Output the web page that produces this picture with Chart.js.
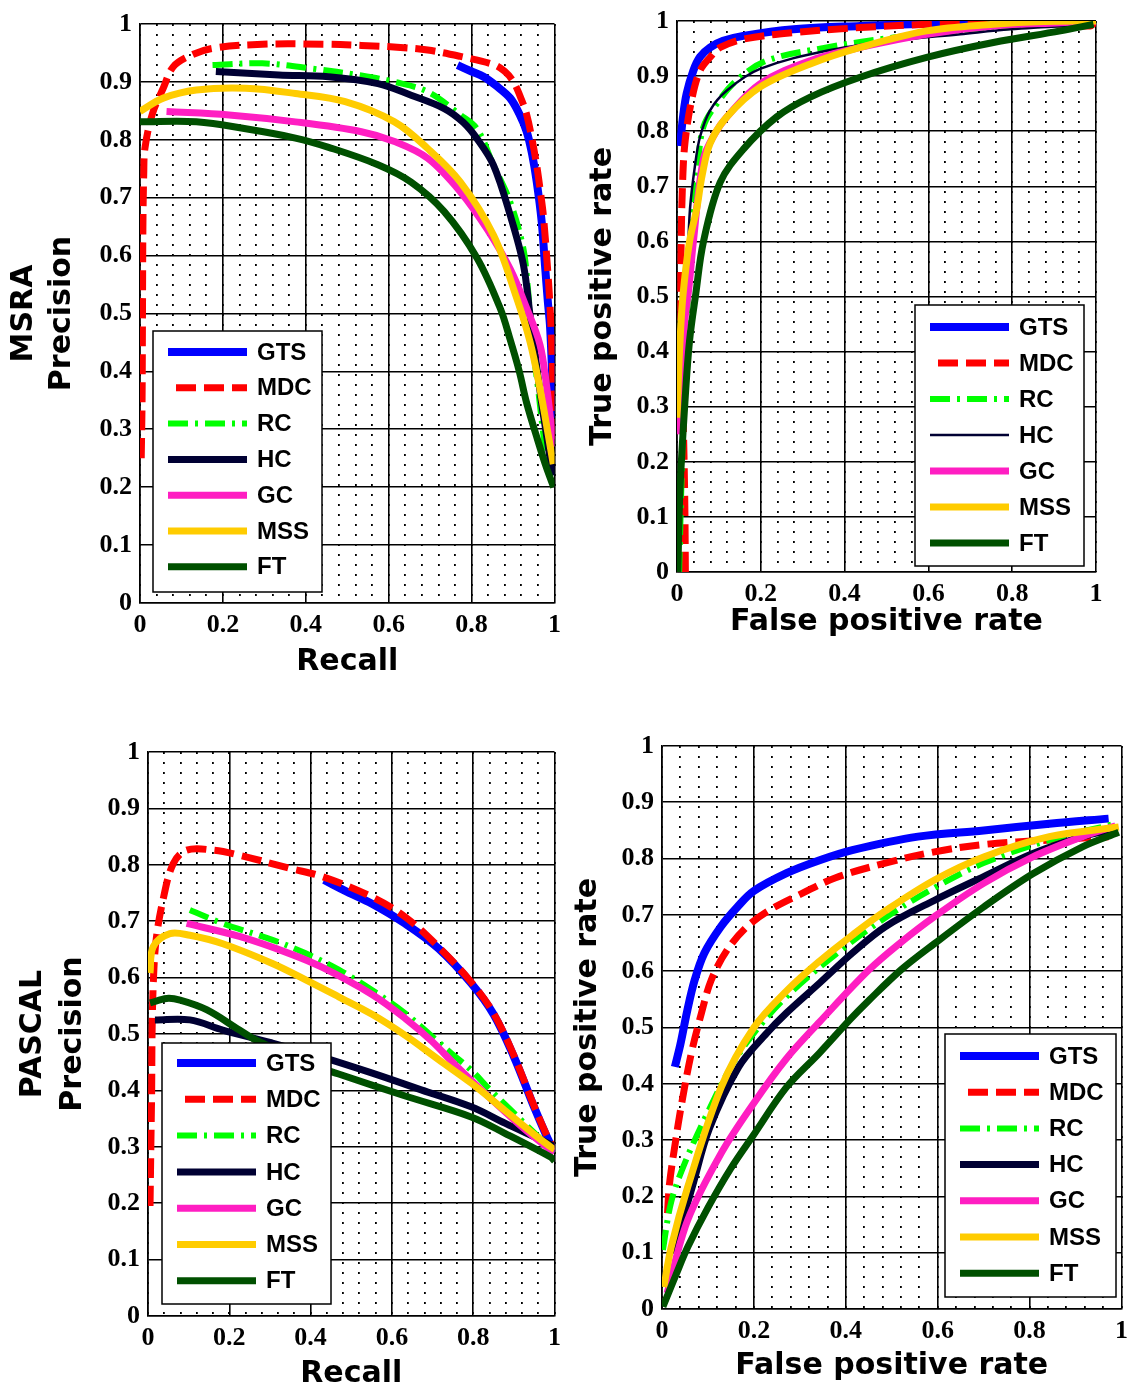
<!DOCTYPE html>
<html>
<head>
<meta charset="utf-8">
<script src="https://cdn.jsdelivr.net/npm/chart.js@4.4.0/dist/chart.umd.min.js"></script>
<style>
  html, body { margin: 0; padding: 0; background: #fff; }
  body { width: 1137px; height: 1392px; position: relative; overflow: hidden; }
  canvas { position: absolute; }
</style>
</head>
<body>
<canvas id="msraPr" width="570" height="690" style="left:0;top:0;width:570px;height:690px"></canvas>
<canvas id="msraRoc" width="567" height="690" style="left:570px;top:0;width:567px;height:690px"></canvas>
<canvas id="pascalPr" width="570" height="702" style="left:0;top:690px;width:570px;height:702px"></canvas>
<canvas id="pascalRoc" width="567" height="702" style="left:570px;top:690px;width:567px;height:702px"></canvas>
<script>
/* ---- data ---- */
var methods = ['GTS', 'MDC', 'RC', 'HC', 'GC', 'MSS', 'FT'];

var xTickValues = [0, 0.2, 0.4, 0.6, 0.8, 1];
var xTickLabels = ['0', '0.2', '0.4', '0.6', '0.8', '1'];
var yTickValues = [0, 0.1, 0.2, 0.3, 0.4, 0.5, 0.6, 0.7, 0.8, 0.9, 1];
var yTickLabels = ['0', '0.1', '0.2', '0.3', '0.4', '0.5', '0.6', '0.7', '0.8', '0.9', '1'];

// MSRA precision / recall
var msraPrGTS = [[0.766,0.929],[0.80,0.918],[0.829,0.909],[0.86,0.893],[0.893,0.872],[0.915,0.845],[0.933,0.814],[0.946,0.775],[0.957,0.728],[0.969,0.659],[0.977,0.584],[0.984,0.52],[0.989,0.48],[0.993,0.42],[0.996,0.36],[0.998,0.32]];
var msraPrMDC = [[0.003,0.25],[0.005,0.35],[0.006,0.5],[0.007,0.65],[0.009,0.74],[0.012,0.786],[0.03,0.845],[0.056,0.889],[0.08,0.926],[0.12,0.945],[0.175,0.958],[0.295,0.965],[0.45,0.965],[0.534,0.963],[0.62,0.96],[0.694,0.955],[0.773,0.944],[0.853,0.930],[0.88,0.918],[0.901,0.900],[0.92,0.87],[0.933,0.843],[0.946,0.80],[0.957,0.756],[0.966,0.71],[0.973,0.670],[0.982,0.59],[0.989,0.515],[0.994,0.43],[0.997,0.35],[0.999,0.28]];
var msraPrRC  = [[0.175,0.929],[0.295,0.932],[0.415,0.923],[0.534,0.911],[0.614,0.900],[0.694,0.883],[0.773,0.843],[0.813,0.819],[0.853,0.756],[0.893,0.693],[0.925,0.612],[0.935,0.55],[0.947,0.45],[0.962,0.36],[0.975,0.28],[0.985,0.23]];
var msraPrHC  = [[0.183,0.918],[0.335,0.912],[0.455,0.909],[0.574,0.897],[0.654,0.877],[0.734,0.854],[0.78,0.83],[0.813,0.802],[0.853,0.756],[0.893,0.670],[0.925,0.584],[0.941,0.497],[0.955,0.42],[0.97,0.34],[0.985,0.27],[0.995,0.22]];
var msraPrGC  = [[0.064,0.849],[0.215,0.843],[0.375,0.831],[0.534,0.814],[0.614,0.797],[0.694,0.768],[0.773,0.710],[0.837,0.646],[0.893,0.577],[0.933,0.509],[0.965,0.446],[0.98,0.38],[0.99,0.32],[0.998,0.27]];
var msraPrMSS = [[0.0,0.849],[0.056,0.872],[0.136,0.886],[0.255,0.889],[0.375,0.880],[0.495,0.866],[0.614,0.831],[0.694,0.785],[0.773,0.727],[0.853,0.635],[0.909,0.526],[0.941,0.451],[0.965,0.37],[0.985,0.29],[0.997,0.24]];
var msraPrFT  = [[0.0,0.831],[0.136,0.831],[0.255,0.819],[0.375,0.803],[0.455,0.787],[0.574,0.757],[0.654,0.727],[0.734,0.676],[0.813,0.596],[0.869,0.509],[0.893,0.455],[0.915,0.40],[0.933,0.345],[0.96,0.28],[0.98,0.235],[0.998,0.2]];

// MSRA ROC
var msraRocGTS = [[0.007,0.773],[0.015,0.83],[0.023,0.868],[0.039,0.910],[0.055,0.935],[0.079,0.952],[0.11,0.964],[0.158,0.973],[0.278,0.985],[0.437,0.991],[0.596,0.995],[0.7,0.998],[0.8,1.0],[1.0,1.0]];
var msraRocMDC = [[0.02,0.0],[0.019,0.1],[0.017,0.2],[0.014,0.3],[0.011,0.4],[0.009,0.5],[0.01,0.6],[0.013,0.7],[0.019,0.779],[0.035,0.857],[0.055,0.910],[0.08,0.935],[0.103,0.952],[0.158,0.967],[0.278,0.979],[0.437,0.988],[0.596,0.994],[0.755,0.997],[0.9,0.995],[0.986,0.991],[1.0,1.0]];
var msraRocRC  = [[0.005,0.0],[0.012,0.2],[0.02,0.4],[0.03,0.55],[0.039,0.659],[0.05,0.74],[0.063,0.808],[0.095,0.850],[0.142,0.892],[0.214,0.928],[0.357,0.952],[0.517,0.970],[0.676,0.982],[0.835,0.991],[0.994,0.997]];
var msraRocHC  = [[0.003,0.0],[0.01,0.2],[0.018,0.4],[0.025,0.55],[0.031,0.659],[0.043,0.738],[0.055,0.790],[0.079,0.838],[0.119,0.874],[0.198,0.913],[0.357,0.946],[0.517,0.964],[0.676,0.976],[0.795,0.985],[0.994,0.994]];
var msraRocGC  = [[0.005,0.25],[0.018,0.45],[0.029,0.52],[0.039,0.599],[0.063,0.749],[0.09,0.795],[0.119,0.826],[0.198,0.886],[0.318,0.928],[0.437,0.952],[0.596,0.976],[0.755,0.991],[0.915,0.997],[1.0,1.0]];
var msraRocMSS = [[0.0,0.28],[0.006,0.4],[0.014,0.5],[0.03,0.6],[0.047,0.659],[0.06,0.72],[0.079,0.778],[0.119,0.826],[0.198,0.880],[0.318,0.922],[0.437,0.952],[0.596,0.982],[0.755,0.994],[0.875,0.999],[1.0,1.0]];
var msraRocFT  = [[0.002,0.0],[0.007,0.147],[0.019,0.309],[0.03,0.42],[0.045,0.506],[0.063,0.599],[0.103,0.707],[0.158,0.767],[0.238,0.826],[0.318,0.862],[0.437,0.898],[0.596,0.934],[0.755,0.961],[0.915,0.982],[0.994,0.994]];

// PASCAL precision / recall
var pascalPrGTS = [[0.433,0.773],[0.49,0.752],[0.551,0.731],[0.632,0.696],[0.714,0.652],[0.795,0.59],[0.85,0.535],[0.9,0.46],[0.95,0.37],[0.98,0.32],[1.0,0.29]];
var pascalPrMDC = [[0.005,0.195],[0.007,0.3],[0.009,0.4],[0.01,0.5],[0.013,0.59],[0.02,0.667],[0.037,0.738],[0.062,0.802],[0.095,0.826],[0.160,0.826],[0.225,0.817],[0.347,0.794],[0.429,0.779],[0.551,0.743],[0.632,0.708],[0.714,0.655],[0.795,0.592],[0.85,0.537],[0.9,0.462],[0.95,0.372],[0.98,0.322],[1.0,0.295]];
var pascalPrRC  = [[0.103,0.720],[0.184,0.696],[0.306,0.667],[0.388,0.643],[0.469,0.614],[0.551,0.578],[0.632,0.537],[0.697,0.497],[0.746,0.466],[0.795,0.436],[0.843,0.40],[0.9,0.36],[0.95,0.325],[1.0,0.29]];
var pascalPrHC  = [[0.017,0.525],[0.103,0.525],[0.184,0.507],[0.3,0.485],[0.428,0.459],[0.550,0.431],[0.672,0.401],[0.795,0.371],[0.878,0.342],[0.985,0.306],[1.0,0.30]];
var pascalPrGC  = [[0.095,0.696],[0.225,0.673],[0.347,0.643],[0.429,0.618],[0.551,0.570],[0.632,0.528],[0.697,0.488],[0.756,0.445],[0.836,0.39],[0.917,0.337],[0.98,0.30],[1.0,0.29]];
var pascalPrMSS = [[0.005,0.608],[0.013,0.655],[0.054,0.678],[0.103,0.675],[0.184,0.660],[0.306,0.625],[0.388,0.596],[0.469,0.566],[0.551,0.535],[0.632,0.498],[0.714,0.455],[0.795,0.413],[0.877,0.365],[0.95,0.322],[0.99,0.30],[1.0,0.295]];
var pascalPrFT  = [[0.005,0.555],[0.046,0.563],[0.079,0.560],[0.144,0.543],[0.225,0.507],[0.266,0.489],[0.389,0.449],[0.469,0.429],[0.633,0.39],[0.795,0.353],[0.878,0.324],[0.99,0.282],[1.0,0.275]];

// PASCAL ROC
var pascalRocGTS = [[0.028,0.430],[0.04,0.47],[0.055,0.53],[0.071,0.584],[0.092,0.632],[0.128,0.679],[0.164,0.714],[0.199,0.742],[0.271,0.774],[0.343,0.797],[0.414,0.815],[0.557,0.839],[0.700,0.850],[0.843,0.862],[0.972,0.871]];
var pascalRocMDC = [[0.012,0.17],[0.016,0.22],[0.028,0.29],[0.043,0.366],[0.064,0.455],[0.086,0.526],[0.107,0.584],[0.142,0.638],[0.185,0.679],[0.235,0.709],[0.307,0.739],[0.378,0.766],[0.486,0.792],[0.593,0.812],[0.700,0.825],[0.843,0.833],[0.972,0.839]];
var pascalRocRC  = [[0.002,0.105],[0.02,0.19],[0.05,0.26],[0.1,0.35],[0.15,0.43],[0.2,0.49],[0.271,0.555],[0.378,0.630],[0.486,0.695],[0.593,0.748],[0.700,0.792],[0.843,0.833],[0.987,0.862]];
var pascalRocHC  = [[0.024,0.099],[0.066,0.217],[0.103,0.32],[0.167,0.43],[0.228,0.49],[0.271,0.526],[0.343,0.579],[0.414,0.632],[0.486,0.679],[0.593,0.726],[0.700,0.768],[0.807,0.809],[0.915,0.839],[0.987,0.853]];
var pascalRocGC  = [[0.011,0.028],[0.056,0.158],[0.129,0.277],[0.2,0.366],[0.271,0.445],[0.343,0.51],[0.450,0.602],[0.521,0.652],[0.593,0.697],[0.700,0.756],[0.807,0.803],[0.915,0.839],[0.987,0.858]];
var pascalRocMSS = [[0.004,0.039],[0.02,0.11],[0.056,0.217],[0.129,0.394],[0.2,0.5],[0.271,0.565],[0.343,0.618],[0.414,0.664],[0.486,0.707],[0.593,0.762],[0.700,0.803],[0.843,0.839],[0.994,0.856]];
var pascalRocFT  = [[0.002,0.004],[0.03,0.06],[0.056,0.11],[0.1,0.18],[0.15,0.25],[0.2,0.31],[0.271,0.394],[0.343,0.455],[0.408,0.513],[0.45,0.548],[0.521,0.603],[0.593,0.649],[0.700,0.714],[0.807,0.773],[0.915,0.821],[0.994,0.847]];

/* ---- styles ---- */
var lineStyles = {
    GTS: { color: '#0000ff', width: 8, dash: [] },
    MDC: { color: '#ff0000', width: 7, dash: [20, 8], legendOffset: 20 },
    RC:  { color: '#00ff00', width: 6, dash: [20, 7, 3, 7] },
    HC:  { color: '#000033', width: 7, dash: [] },
    GC:  { color: '#ff1ec2', width: 7, dash: [] },
    MSS: { color: '#ffcc00', width: 7, dash: [] },
    FT:  { color: '#005000', width: 7, dash: [] }
};

// legend box drawn inside the plot area, offsets in px from the plot's top-left
var boxLegend = {
    id: 'boxLegend',
    afterDatasetsDraw: function (chart, args, o) {
        var ctx = chart.ctx, a = chart.chartArea;
        var x0 = a.left + o.x, y0 = a.top + o.y;
        ctx.save();
        ctx.fillStyle = '#fff';
        ctx.fillRect(x0, y0, o.w, o.h);
        ctx.strokeStyle = '#000';
        ctx.lineWidth = 1.5;
        ctx.strokeRect(x0, y0, o.w, o.h);
        chart.data.datasets.forEach(function (ds, i) {
            var yy = y0 + o.first + i * o.step;
            ctx.strokeStyle = ds.borderColor;
            ctx.lineWidth = ds.borderWidth;
            ctx.lineCap = 'butt';
            ctx.setLineDash(ds.borderDash || []);
            ctx.lineDashOffset = ds.legendOffset || 0;
            ctx.beginPath();
            ctx.moveTo(x0 + 15, yy);
            ctx.lineTo(x0 + 94, yy);
            ctx.stroke();
            ctx.setLineDash([]);
            ctx.fillStyle = '#000';
            ctx.font = 'bold 24px "Liberation Sans"';
            ctx.textBaseline = 'middle';
            ctx.textAlign = 'left';
            ctx.fillText(ds.label, x0 + 104, yy + 1);
        });
        ctx.restore();
    }
};

function makeChart(id, series, p) {
    var datasets = methods.map(function (name, i) {
        var st = lineStyles[name];
        return {
            label: name,
            data: series[i].map(function (pt) { return { x: pt[0], y: pt[1] }; }),
            showLine: true,
            borderColor: st.color,
            backgroundColor: st.color,
            borderWidth: (p.widths && p.widths[name]) || st.width,
            borderDash: st.dash,
            legendOffset: st.legendOffset || 0,
            pointRadius: 0,
            pointHoverRadius: 0,
            tension: 0.35,
            fill: false,
            order: methods.length - i
        };
    });

    var tickFont = { family: '"Liberation Serif"', weight: 'bold', size: 26, lineHeight: 1 };
    var titleFont = { family: '"DejaVu Sans"', weight: 'bold', size: 30, lineHeight: p.yLH / 30 };

    var ctx = document.getElementById(id).getContext('2d');
    return new Chart(ctx, {
        type: 'scatter',
        data: { datasets: datasets },
        plugins: [boxLegend],
        options: {
            responsive: false,
            animation: false,
            events: [],
            layout: { padding: { left: 0, top: p.padTop, right: p.padRight, bottom: 0 } },
            plugins: {
                legend: { display: false },
                tooltip: { enabled: false },
                boxLegend: p.legend
            },
            scales: {
                x: {
                    type: 'linear', position: 'bottom', min: 0, max: 1,
                    afterBuildTicks: function (s) { s.ticks = xTickValues.map(function (v) { return { value: v }; }); },
                    afterFit: function (s) { s.height = p.xh; },
                    ticks: {
                        color: '#000', font: tickFont, padding: 9, maxRotation: 0, autoSkip: false,
                        callback: function (v, i) { return xTickLabels[i]; }
                    },
                    grid: { color: '#000', lineWidth: 1.6, drawTicks: false },
                    border: { display: true, color: '#000', width: 1.6 },
                    title: {
                        display: true, text: p.xTitle, color: '#000',
                        font: { family: '"DejaVu Sans"', weight: 'bold', size: 30, lineHeight: 1 },
                        padding: { top: 0, bottom: p.xTitlePad }
                    }
                },
                xMinor: {
                    type: 'linear', position: 'top', min: 0, max: 1,
                    afterFit: function (s) { s.height = 0; },
                    ticks: { display: false, stepSize: 0.04 },
                    grid: { color: '#000', lineWidth: 1.8, drawTicks: false },
                    border: { display: false, dash: [2, 8] }
                },
                y: {
                    type: 'linear', position: 'left', min: 0, max: 1,
                    afterBuildTicks: function (s) { s.ticks = yTickValues.map(function (v) { return { value: v }; }); },
                    afterFit: function (s) { s.width = p.yw; },
                    ticks: {
                        color: '#000', font: tickFont, padding: 8, autoSkip: false,
                        callback: function (v, i) { return yTickLabels[i]; }
                    },
                    grid: { color: '#000', lineWidth: 1.6, drawTicks: false },
                    border: { display: true, color: '#000', width: 1.6 },
                    title: {
                        display: true, text: p.yTitle, color: '#000', font: titleFont,
                        padding: { top: p.yTitlePad, bottom: 0 }
                    }
                }
            }
        }
    });
}

makeChart('msraPr',
    [msraPrGTS, msraPrMDC, msraPrRC, msraPrHC, msraPrGC, msraPrMSS, msraPrFT],
    { padTop: 24, padRight: 12, xh: 87, yw: 140, xTitle: 'Recall', xTitlePad: 13,
      yTitle: ['MSRA', 'Precision'], yLH: 38, yTitlePad: 5,
      legend: { x: 13, y: 307, w: 169, h: 261, first: 21, step: 35.8 } });

makeChart('msraRoc',
    [msraRocGTS, msraRocMDC, msraRocRC, msraRocHC, msraRocGC, msraRocMSS, msraRocFT],
    { padTop: 15, padRight: 41, xh: 118, yw: 107, xTitle: 'False positive rate', xTitlePad: 53,
      yTitle: 'True positive rate', yLH: 30, yTitlePad: 18, widths: { HC: 2.5 },
      legend: { x: 238, y: 284, w: 169, h: 261, first: 22, step: 36 } });

makeChart('pascalPr',
    [pascalPrGTS, pascalPrMDC, pascalPrRC, pascalPrHC, pascalPrGC, pascalPrMSS, pascalPrFT],
    { padTop: 62, padRight: 13, xh: 76, yw: 148, xTitle: 'Recall', xTitlePad: 3,
      yTitle: ['PASCAL', 'Precision'], yLH: 40, yTitlePad: 13,
      legend: { x: 14, y: 291, w: 169, h: 261, first: 20, step: 36.3 } });

makeChart('pascalRoc',
    [pascalRocGTS, pascalRocMDC, pascalRocRC, pascalRocHC, pascalRocGC, pascalRocMSS, pascalRocFT],
    { padTop: 56, padRight: 9, xh: 83, yw: 92, xTitle: 'False positive rate', xTitlePad: 11,
      yTitle: 'True positive rate', yLH: 30, yTitlePad: 3,
      legend: { x: 283, y: 288, w: 171, h: 263, first: 22, step: 36.2 } });
</script>
</body>
</html>
